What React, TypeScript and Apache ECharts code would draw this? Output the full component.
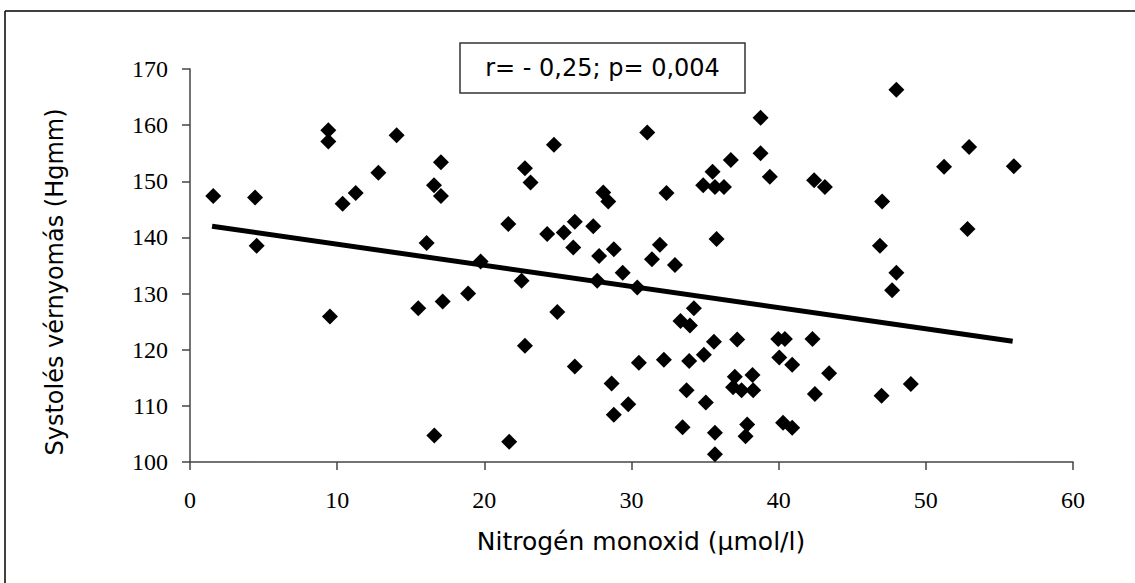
import React, { useEffect, useRef } from "react";
import * as echarts from "echarts";

const noValues: number[] = [
  1.58, 4.42, 4.53, 9.4, 9.4, 10.37, 11.26, 12.8, 14.04, 16.08, 16.58, 17.05, 17.05,
  9.51, 15.51, 17.17, 16.6, 24.73, 22.76, 23.14, 28.08, 28.42, 31.07, 32.38, 35.51,
  34.87, 35.67, 36.28, 36.75, 38.77, 38.77, 39.4, 35.78, 21.63, 24.27, 25.4, 26.15,
  27.4, 26.04, 27.8, 28.8, 31.93, 31.39, 32.95, 29.4, 19.75, 22.53, 27.67, 30.39,
  18.9, 24.96, 34.24, 33.33, 33.97, 22.76, 35.6, 37.18, 34.92, 30.5, 32.2, 33.92,
  26.15, 37.02, 38.22, 36.9, 37.48, 38.27, 28.65, 33.74, 29.78, 28.8, 35.05, 33.47,
  35.67, 37.86, 37.75, 35.67, 21.69, 48.0, 42.41, 43.14, 52.94, 51.24, 55.98, 47.03,
  52.83, 46.88, 48.0, 47.71, 39.97, 40.42, 42.3, 40.04, 40.92, 43.43, 42.46, 48.98,
  46.99, 40.3, 40.92,
];

const sbpValues: number[] = [
  147.4, 147.1, 138.5, 159.1, 157.1, 146.0, 147.9, 151.5, 158.2, 139.0, 149.3, 153.4, 147.4,
  125.9, 127.4, 128.6, 104.7, 156.5, 152.3, 149.8, 148.0, 146.4, 158.7, 147.9, 151.7,
  149.3, 149.0, 149.0, 153.8, 161.3, 155.0, 150.8, 139.7, 142.4, 140.6, 140.9, 142.8,
  142.0, 138.2, 136.7, 137.9, 138.7, 136.1, 135.1, 133.7, 135.7, 132.3, 132.3, 131.1,
  130.0, 126.7, 127.4, 125.1, 124.3, 120.7, 121.4, 121.8, 119.1, 117.7, 118.2, 118.0,
  117.0, 115.2, 115.5, 113.3, 112.8, 112.8, 114.0, 112.8, 110.3, 108.4, 110.6, 106.2,
  105.2, 106.7, 104.6, 101.4, 103.6, 166.3, 150.2, 149.0, 156.1, 152.6, 152.7, 146.4,
  141.5, 138.5, 133.7, 130.6, 121.9, 121.9, 121.9, 118.6, 117.3, 115.8, 112.1, 113.9,
  111.8, 107.0, 106.1,
];

// regression line end points
const trendX: number[] = [1.5, 55.9];
const trendY: number[] = [142.0, 121.5];

const statText = "r= - 0,25; p= 0,004";
const xName = "Nitrogén monoxid (µmol/l)";
const yName = "Systolés vérnyomás (Hgmm)";

export default function App() {
  const ref = useRef<HTMLDivElement>(null);
  useEffect(() => {
    if (!ref.current) return;
    const chart = echarts.init(ref.current, null, { renderer: "svg" });
    const points = noValues.map((x, i) => [x, sbpValues[i]]);
    const trend = trendX.map((x, i) => [x, trendY[i]]);
    const axisLineStyle = { color: "#444", width: 1.5 };
    chart.setOption({
      animation: false,
      backgroundColor: "#ffffff",
      grid: { left: 190, right: 62, top: 69, bottom: 121, containLabel: false },
      xAxis: {
        type: "value",
        min: 0,
        max: 60,
        interval: 10,
        axisLine: { show: true, lineStyle: axisLineStyle },
        axisTick: { show: true, length: 8, lineStyle: axisLineStyle },
        axisLabel: { fontFamily: "Liberation Serif", fontSize: 24, color: "#000", margin: 26 },
        splitLine: { show: false },
      },
      yAxis: {
        type: "value",
        min: 100,
        max: 170,
        interval: 10,
        axisLine: { show: true, lineStyle: axisLineStyle },
        axisTick: { show: true, length: 8, lineStyle: axisLineStyle },
        axisLabel: { fontFamily: "Liberation Serif", fontSize: 24, color: "#000", margin: 22 },
        splitLine: { show: false },
      },
      series: [
        {
          type: "line",
          data: trend,
          symbol: "none",
          lineStyle: { color: "#000", width: 5 },
          z: 2,
        },
        {
          type: "scatter",
          data: points,
          symbol: "diamond",
          symbolSize: 16,
          itemStyle: { color: "#000", opacity: 1 },
          z: 3,
        },
      ],
      graphic: [
        {
          type: "line",
          shape: { x1: 5, y1: 11, x2: 1135, y2: 11 },
          style: { stroke: "#000", lineWidth: 1.5 },
        },
        {
          type: "line",
          shape: { x1: 5, y1: 11, x2: 5, y2: 583 },
          style: { stroke: "#000", lineWidth: 1.5 },
        },
        {
          type: "rect",
          shape: { x: 460, y: 43, width: 285, height: 50 },
          style: { fill: "#fff", stroke: "#333", lineWidth: 1.5 },
          z: 10,
        },
        {
          type: "text",
          x: 602.5,
          y: 68,
          style: {
            text: statText,
            fontFamily: "DejaVu Sans",
            fontSize: 24,
            fill: "#000",
            align: "center",
            verticalAlign: "middle",
          },
          z: 11,
        },
        {
          type: "text",
          x: 641,
          y: 541,
          style: {
            text: xName,
            fontFamily: "DejaVu Sans",
            fontSize: 25,
            fill: "#000",
            align: "center",
            verticalAlign: "middle",
          },
        },
        {
          type: "text",
          x: 55,
          y: 282,
          rotation: Math.PI / 2,
          style: {
            text: yName,
            fontFamily: "DejaVu Sans",
            fontSize: 24,
            fill: "#000",
            align: "center",
            verticalAlign: "middle",
          },
        },
      ],
    });
    return () => chart.dispose();
  }, []);
  return (
    <div
      ref={ref}
      style={{ position: "fixed", left: 0, top: 0, width: 1135, height: 583, background: "#fff" }}
    />
  );
}
